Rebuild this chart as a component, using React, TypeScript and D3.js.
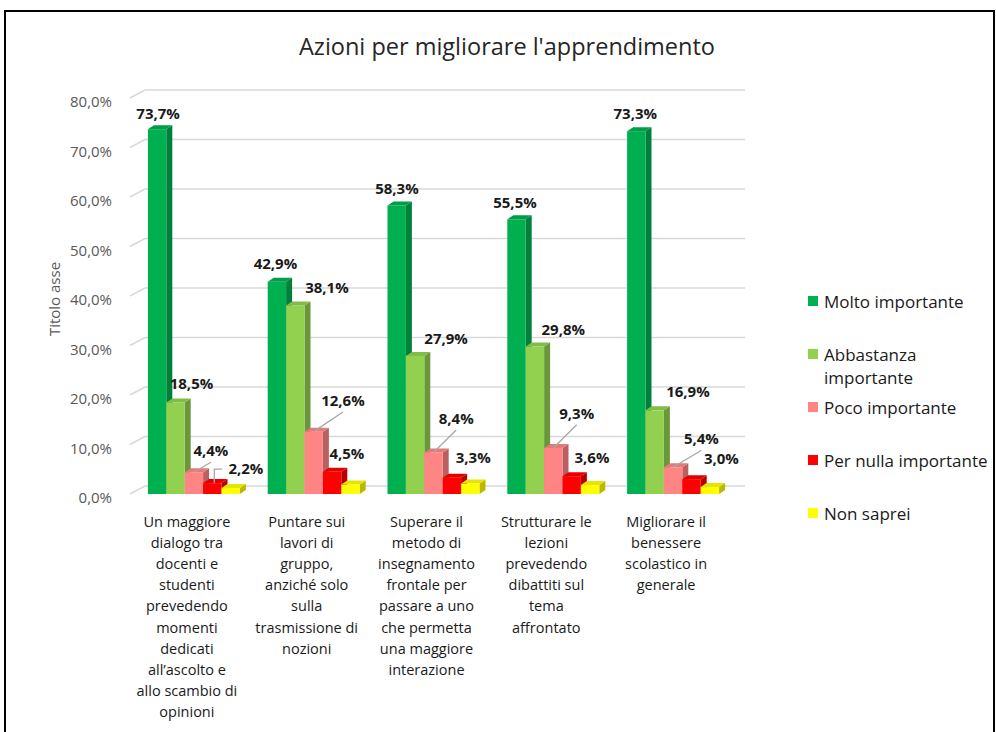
import React from "react";
import * as d3 from "d3";

// ---------- data ----------
const categories = [
  "Un maggiore\ndialogo tra\ndocenti e\nstudenti\nprevedendo\nmomenti\ndedicati\nall’ascolto e\nallo scambio di\nopinioni",
  "Puntare sui\nlavori di\ngruppo,\nanziché solo\nsulla\ntrasmissione di\nnozioni",
  "Superare il\nmetodo di\ninsegnamento\nfrontale per\npassare a uno\nche permetta\nuna maggiore\ninterazione",
  "Strutturare le\nlezioni\nprevedendo\ndibattiti sul\ntema\naffrontato",
  "Migliorare il\nbenessere\nscolastico in\ngenerale",
];
const seriesNames = [
  "Molto importante",
  "Abbastanza importante",
  "Poco importante",
  "Per nulla importante",
  "Non saprei",
];
const legendLines = [["Molto importante"], ["Abbastanza", "importante"], ["Poco importante"], ["Per nulla importante"], ["Non saprei"]];
const molto = [73.7, 42.9, 58.3, 55.5, 73.3];
const abbastanza = [18.5, 38.1, 27.9, 29.8, 16.9];
const poco = [4.4, 12.6, 8.4, 9.3, 5.4];
const perNulla = [2.2, 4.5, 3.3, 3.6, 3.0];
const nonSaprei = [1.2, 1.9, 2.1, 1.8, 1.4];
const yTicks = [0, 10, 20, 30, 40, 50, 60, 70, 80];
const title = "Azioni per migliorare l'apprendimento";
const axisTitle = "Titolo asse";

// ---------- style ----------
const seriesValues = [molto, abbastanza, poco, perNulla, nonSaprei];
const colors = ["#00B050", "#92D050", "#FF8585", "#FF0000", "#FFFF00"];
const showLabel = [true, true, true, true, false];
// manual label nudges (Excel dragged labels) relative to bar front-top centre
const labelNudge = [
  [[1, -16.5], [-1.5, -18.6], [0.2, -17.1], [-1.5, -17.6], [-1, -18]],
  [[16, -19], [31.6, -18.4], [31, -18], [28.4, -17.2], [33.2, -19.6]],
  [[17, -22], [29.2, -31.6], [22.7, -34.4], [23.4, -35.3], [28.3, -29]],
  [[33.6, -15], [14.8, -18.7], [21.3, -21], [20.3, -19.2], [29.9, -20.9]],
  [[0, -16], [0, -16], [0, -16], [0, -16], [0, -16]],
];
// leader line kind: "" none, "s" straight, "e" elbow
const leaderKind = [
  ["", "", "", "", ""],
  ["", "", "", "", ""],
  ["s", "s", "s", "s", "s"],
  ["e", "", "", "", ""],
  ["", "", "", "", ""],
];

const FONT = "'Open Sans', 'DejaVu Sans', sans-serif";
const WALL_DX = 15;
const WALL_DY = -8;
const BAR_DX = 6;
const BAR_DY = -4;

export default function App() {
  const x = d3
    .scaleBand<number>()
    .domain(d3.range(categories.length))
    .range([134, 733])
    .paddingInner(0.232)
    .paddingOuter(0.116);
  const xs = d3
    .scaleBand<number>()
    .domain(d3.range(seriesNames.length))
    .range([0, x.bandwidth()]);
  const y = d3.scaleLinear().domain([0, 80]).range([494, 98]);
  const wallLeft = 130;
  const wallRight = 730;

  const bars: React.ReactNode[] = [];
  const leaders: React.ReactNode[] = [];
  const labels: React.ReactNode[] = [];

  categories.forEach((_, i) => {
    seriesValues.forEach((vals, j) => {
      const v = vals[i];
      const x0 = (x(i) as number) + (xs(j) as number);
      const w = xs.bandwidth();
      const yT = y(v);
      const yB = y(0);
      const c = d3.color(colors[j])!;
      const side = c.darker(0.9).formatHex();
      const top = c.darker(0.3).formatHex();
      bars.push(
        <g key={`b${i}-${j}`}>
          <polygon
            points={`${x0 + w},${yT} ${x0 + w + BAR_DX},${yT + BAR_DY} ${x0 + w + BAR_DX},${yB + BAR_DY} ${x0 + w},${yB}`}
            fill={side}
          />
          <polygon
            points={`${x0},${yT} ${x0 + w},${yT} ${x0 + w + BAR_DX},${yT + BAR_DY} ${x0 + BAR_DX},${yT + BAR_DY}`}
            fill={top}
          />
          <rect x={x0} y={yT} width={w} height={yB - yT} fill={colors[j]} />
        </g>
      );
      if (showLabel[j]) {
        const cx = x0 + w / 2;
        const [ndx, ndy] = labelNudge[j][i];
        const lx = cx + ndx;
        const ly = yT + ndy;
        const text = d3.format(".1f")(v).replace(".", ",") + "%";
        labels.push(
          <text
            key={`l${i}-${j}`}
            x={lx}
            y={ly}
            textAnchor="middle"
            dominantBaseline="central"
            fontFamily={FONT}
            fontWeight={700}
            fontSize={15}
            fill="#1a1a1a"
          >
            {text}
          </text>
        );
        const kind = leaderKind[j][i];
        if (kind === "s") {
          leaders.push(
            <line
              key={`ld${i}-${j}`}
              x1={lx}
              y1={ly + 12}
              x2={cx}
              y2={yT}
              stroke="#A6A6A6"
              strokeWidth={1.3}
            />
          );
        } else if (kind === "e") {
          const left = lx - 18;
          leaders.push(
            <polyline
              key={`ld${i}-${j}`}
              points={`${left - 6},${ly + 1} ${cx + 2},${ly + 1} ${cx + 2},${yT}`}
              fill="none"
              stroke="#A6A6A6"
              strokeWidth={1.3}
            />
          );
        }
      }
    });
  });

  const catX = (i: number) => (x(i) as number) + x.bandwidth() / 2 - 7;

  return (
    <svg
      width={996}
      height={732}
      style={{ position: "fixed", left: 0, top: 0, background: "#fff" }}
    >
      <rect x={0} y={0} width={996} height={732} fill="#fff" />
      <rect x={5} y={11} width={989} height={740} fill="none" stroke="#000" strokeWidth={2} />
      <text
        x={507}
        y={46}
        textAnchor="middle"
        dominantBaseline="central"
        fontFamily={FONT}
        fontWeight={400}
        fontSize={23.5}
        fill="#262626"
      >
        {title}
      </text>
      {/* grid */}
      {yTicks.map((t) => (
        <g key={`g${t}`}>
          <line
            x1={wallLeft}
            y1={y(t)}
            x2={wallLeft + WALL_DX}
            y2={y(t) + WALL_DY}
            stroke="#D9D9D9"
            strokeWidth={1.5}
          />
          <line
            x1={wallLeft + WALL_DX}
            y1={y(t) + WALL_DY}
            x2={wallRight + WALL_DX}
            y2={y(t) + WALL_DY}
            stroke="#D9D9D9"
            strokeWidth={1.5}
          />
          <text
            x={112}
            y={y(t) + 3}
            textAnchor="end"
            dominantBaseline="central"
            fontFamily={FONT}
            fontSize={15}
            fill="#595959"
          >
            {d3.format(".1f")(t).replace(".", ",") + "%"}
          </text>
        </g>
      ))}
      <text
        transform={`translate(54,299) rotate(-90)`}
        textAnchor="middle"
        dominantBaseline="central"
        fontFamily={FONT}
        fontSize={15}
        fill="#595959"
      >
        {axisTitle}
      </text>
      {bars}
      {leaders}
      {labels}
      {/* category labels */}
      {categories.map((cat, i) => (
        <text
          key={`c${i}`}
          x={catX(i)}
          y={521}
          textAnchor="middle"
          fontFamily={FONT}
          fontSize={14.5}
          fill="#1a1a1a"
        >
          {cat.split("\n").map((ln, k) => (
            <tspan key={k} x={catX(i)} y={521 + k * 21.2} dominantBaseline="central">
              {ln}
            </tspan>
          ))}
        </text>
      ))}
      {/* legend */}
      {seriesNames.map((s, j) => (
        <g key={`lg${j}`}>
          <rect x={808} y={301 + j * 53 - 5} width={10} height={10} fill={colors[j]} />
          {legendLines[j].map((ln, k) => (
            <text
              key={k}
              x={824}
              y={301 + j * 53 + k * 23}
              dominantBaseline="central"
              fontFamily={FONT}
              fontSize={17}
              fill="#1a1a1a"
            >
              {ln}
            </text>
          ))}
        </g>
      ))}
    </svg>
  );
}
